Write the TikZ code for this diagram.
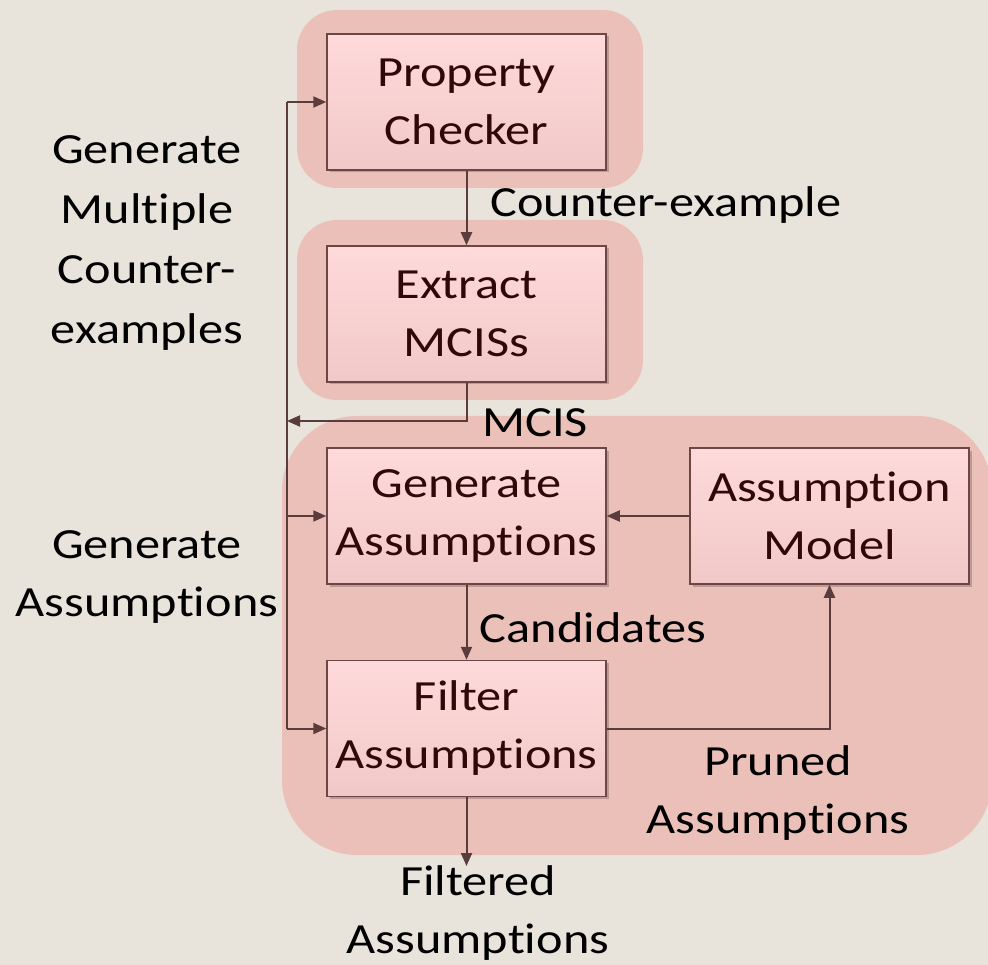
\documentclass[tikz,border=0pt]{standalone}
\usepackage{fontspec}
\setmainfont{Carlito}[FakeStretch=1.17, Ligatures=NoCommon]
\usetikzlibrary{arrows.meta,shadows,shadings}
\definecolor{bgc}{HTML}{E8E4DC}
\definecolor{grp}{HTML}{EBC0B8}
\definecolor{boxtop}{HTML}{FFDADA}
\definecolor{boxbot}{HTML}{F1C8C8}
\definecolor{edge}{HTML}{6E4646}
\definecolor{wire}{HTML}{5A3C3C}
\definecolor{boxtext}{HTML}{300808}
\newcommand\lbl{\fontsize{43}{58}\selectfont}
\tikzset{
  stage/.style={draw=edge, line width=1.5pt, top color=boxtop, bottom color=boxbot,
    minimum width=279pt, minimum height=136pt, align=center, text=boxtext, font=\lbl,
    drop shadow={shadow xshift=2.5pt, shadow yshift=-2.5pt, opacity=0.2, fill=black}},
  group/.style={fill=grp},
  wire/.style={draw=wire, line width=2pt, -{Triangle[length=13pt,width=11pt]}},
  wireplain/.style={draw=wire, line width=2pt},
  caption/.style={align=center, font=\lbl, text=black, inner sep=0pt}
}
\begin{document}
\begin{tikzpicture}[x=1pt,y=-1pt]
  \fill[bgc] (0,0) rectangle (988,965);
  \useasboundingbox (0,0) rectangle (988,965);

  % shaded groupings behind the stages
  \fill[group, rounded corners=40pt] (297,10) rectangle (643,188);
  \fill[group, rounded corners=40pt] (297,220) rectangle (643,400);
  \fill[group, rounded corners=75pt] (282,416) rectangle (992,855);

  % stages
  \node[stage] (pc) at (466.5,102) {Property\\Checker};
  \node[stage] (em) at (466.5,314) {Extract\\MCISs};
  \node[stage] (ga) at (466.5,516) {Generate\\Assumptions};
  \node[stage] (am) at (829.5,516) {Assumption\\Model};
  \node[stage] (fa) at (466.5,728.5) {Filter\\Assumptions};

  % feedback bus on the left
  \coordinate (bustop) at (287,102);
  \coordinate (merge) at (287,421);
  \coordinate (busmid) at (287,516);
  \coordinate (busbot) at (287,728.5);
  \coordinate (out) at (466.5,866);

  \draw[wireplain] (bustop) -- (busbot);
  \draw[wire] (bustop) -- (pc.west);
  \draw[wire] (busmid) -- (ga.west);
  \draw[wire] (busbot) -- (fa.west);

  \draw[wire] (pc.south) -- (em.north);
  \draw[wire] (em.south) |- (merge);
  \draw[wire] (am.west) -- (ga.east);
  \draw[wire] (ga.south) -- (fa.north);
  \draw[wire] (fa.east) -| (am.south);
  \draw[wire] (fa.south) -- (out);

  % labels
  \node[caption] (lce) at (666,205) {Counter-example};
  \node[caption] (lmcis) at (535,423) {MCIS};
  \node[caption] (lcand) at (593,628) {Candidates};
  \node[caption] (lpruned) at (778,793) {Pruned\\Assumptions};
  \node[caption] (lfilt) at (478,913) {Filtered\\Assumptions};
  \node[caption, font=\fontsize{43}{60}\selectfont] (lmulti) at (147,243) {Generate\\Multiple\\Counter-\\examples};
  \node[caption] (lgen) at (147,577) {Generate\\Assumptions};
\end{tikzpicture}
\end{document}
